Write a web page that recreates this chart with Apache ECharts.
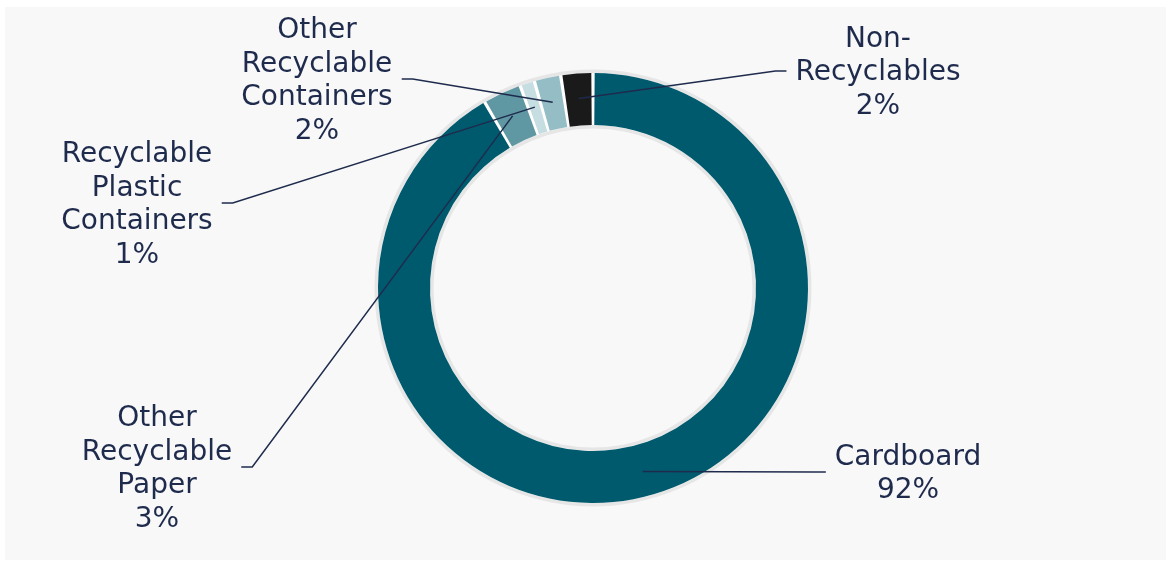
<!DOCTYPE html>
<html>
<head>
<meta charset="utf-8">
<script src="https://cdn.jsdelivr.net/npm/echarts@6/dist/echarts.min.js"></script>
<style>
  html, body { margin: 0; padding: 0; background: #ffffff; width: 1171px; height: 563px; overflow: hidden; }
  #chart { position: absolute; left: 5px; top: 7px; width: 1161px; height: 553px; background: #f8f8f8; }
</style>
</head>
<body>
<div id="chart"></div>
<script>
// ---- data ----
const categories = ['Cardboard', 'Other Recyclable Paper', 'Recyclable Plastic Containers', 'Other Recyclable Containers', 'Non-Recyclables'];
const shares = [91.6, 2.9, 1.1, 2.0, 2.4];

// ---- style / layout ----
const colors = ['#005a6e', '#5f97a2', '#c6dde1', '#94bdc5', '#1a1a1a'];
const CX = 588, CY = 281, R_IN = 163, R_OUT = 215, R_MID = 190;
const TEXT = '#1f2b4d';
// label centre positions and the side where the leader line attaches
const labelPlaces = [
  [903, 467, 'left'],
  [152, 462, 'right'],
  [132, 198, 'right'],
  [312, 74, 'right'],
  [873, 66, 'left']
];
const GAP = 9, ELBOW = 11;

const chart = echarts.init(document.getElementById('chart'), null, { renderer: 'canvas' });

const pieData = categories.map(function (c, i) {
  return { name: c, value: shares[i], itemStyle: { color: colors[i] } };
});

const option = {
  backgroundColor: '#f8f8f8',
  animation: false,
  series: [
    {
      type: 'pie', silent: true, z: 1, center: [CX, CY], radius: [R_IN - 3.5, R_OUT + 3.5],
      label: { show: false }, labelLine: { show: false },
      itemStyle: { color: '#e6e6e6' },
      data: [{ value: 1, name: '' }]
    },
    {
      type: 'pie', silent: true, z: 2, center: [CX, CY], radius: [R_IN, R_OUT],
      label: { show: false }, labelLine: { show: false },
      itemStyle: { color: '#ffffff' },
      data: [{ value: 1, name: '' }]
    },
    {
      type: 'pie', z: 3,
      center: [CX, CY],
      radius: [R_IN, R_OUT],
      startAngle: 90,
      clockwise: true,
      padAngle: 0.9,
      emphasis: { disabled: true },
      label: { show: false }, labelLine: { show: false },
      data: pieData
    },
    {
      type: 'pie', z: 4, silent: true,
      center: [CX, CY],
      radius: [R_IN, R_OUT],
      startAngle: 90,
      clockwise: true,
      avoidLabelOverlap: false,
      emphasis: { disabled: true },
      itemStyle: { color: 'rgba(0,0,0,0)', borderWidth: 0 },
      label: {
        show: true,
        position: 'outer',
        color: TEXT,
        fontFamily: 'DejaVu Sans',
        fontSize: 28,
        lineHeight: 33.5,
        formatter: function (p) {
          const name = p.name.replace('Non-', 'Non-\n').replace(/ /g, '\n');
          return name + '\n' + Math.round(p.percent) + '%';
        }
      },
      labelLine: { show: true, lineStyle: { color: TEXT, width: 1.5 } },
      labelLayout: function (params) {
        const pl = labelPlaces[params.dataIndex];
        const x = pl[0], y = pl[1], side = pl[2];
        const w = params.labelRect.width;
        const p0 = params.labelLinePoints[0];
        const dx = p0[0] - CX, dy = p0[1] - CY;
        const k = R_MID / Math.hypot(dx, dy);
        const inner = [CX + dx * k, CY + dy * k];
        const ly = y - 2;
        const edge = side === 'left' ? x - w / 2 - GAP : x + w / 2 + GAP;
        const elbow = side === 'left' ? edge - ELBOW : edge + ELBOW;
        return {
          x: x, y: y, align: 'center', verticalAlign: 'middle',
          labelLinePoints: [inner, [elbow, ly], [edge, ly]]
        };
      },
      data: categories.map(function (c, i) {
        return { name: c, value: shares[i] };
      })
    }
  ]
};
chart.setOption(option);
</script>
</body>
</html>
